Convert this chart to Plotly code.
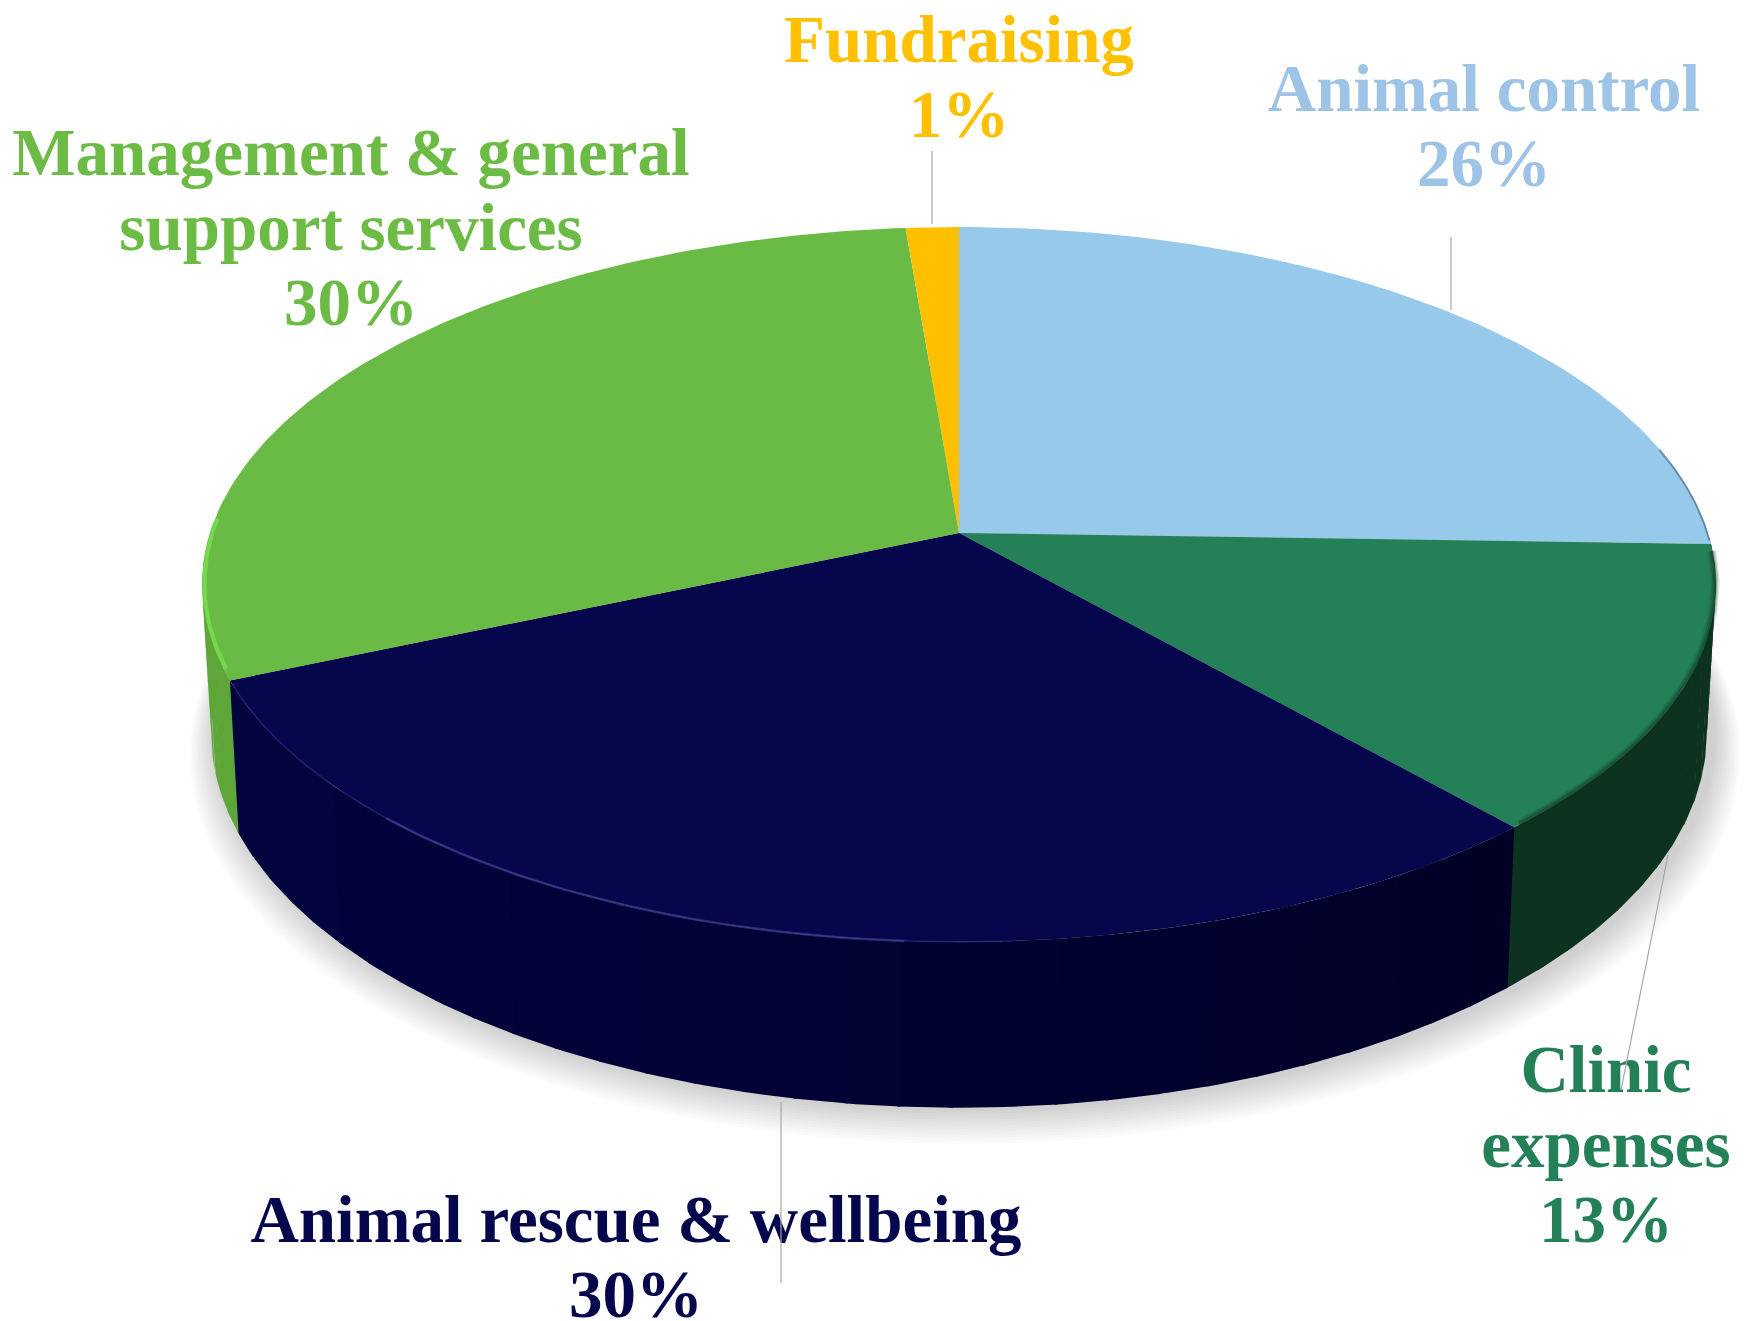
"""Budget split as a tilted 3D-look pie, drawn as filled polygons on pixel-scaled axes."""
import numpy as np
import plotly.graph_objects as go

# data, clockwise from 12 o'clock
categories = ["Animal control", "Clinic<br>expenses", "Animal rescue & wellbeing",
              "Management & general<br>support services", "Fundraising"]
shares = [25.5, 13.0, 30.0, 30.2, 1.3]

top_colors = ["#97c9eb", "#248057", "#06064d", "#6abb45", "#ffc000"]
wall_colors = ["#5f87a8", "#0d3320", "#03033f", "#5ea53a", "#b88a00"]
wall_colors_right = ["#5f87a8", "#0d3320", "#000020", "#5ea53a", "#b88a00"]
label_colors = ["#9dc3e6", "#248057", "#06064d", "#6cbb45", "#ffc000"]
label_x = [1484, 1606, 636, 351, 959]
label_y = [132, 1150, 1263, 233, 83]

WIDTH, HEIGHT = 1759, 1321
LINE_PITCH = 75
CX = 959
TOP = dict(cy=533, a=350, b=749)
BOTTOM = dict(cy=679, a=367, b=740)
K = 0.144


def project(theta, disc, scale=1.0):
    u, v = np.sin(theta) * scale, np.cos(theta) * scale
    w = 1 + K * v
    return CX + disc["b"] * u / w, disc["cy"] - disc["a"] * v / w


def poly(x, y, color):
    return go.Scatter(x=x, y=y, mode="lines", fill="toself", fillcolor=color,
                      line=dict(width=0), hoverinfo="skip", showlegend=False)


def stroke(x, y, color, width):
    return go.Scatter(x=x, y=y, mode="lines", hoverinfo="skip", showlegend=False,
                      line=dict(color=color, width=width))


def mix(c1, c2, t):
    a = [int(c1[i:i + 2], 16) for i in (1, 3, 5)]
    b = [int(c2[i:i + 2], 16) for i in (1, 3, 5)]
    return "rgb(%d,%d,%d)" % tuple(round(p + (q - p) * t) for p, q in zip(a, b))


fig = go.Figure()

# soft shadow under the disc
ring = np.linspace(0, 2 * np.pi, 240)
for i in range(12):
    sx, sy = project(ring, BOTTOM, 1 + 0.003 * (12 - i))
    fig.add_trace(poly(sx + 6, sy + 1.5 * (12 - i), "rgba(90,90,90,0.024)"))

edges = np.cumsum([0] + shares) / sum(shares) * 2 * np.pi

# side walls, only the part facing the viewer, in strips for the shading
for i in range(len(shares)):
    start, end = max(edges[i], np.pi / 2 - 0.03), min(edges[i + 1], 3 * np.pi / 2 + 0.03)
    if end <= start:
        continue
    steps = np.linspace(start, end, int((end - start) * 16) + 2)
    for s0, s1 in zip(steps[:-1], steps[1:]):
        arc = np.linspace(s0, s1 + 0.004, 6)
        tx, ty = project(arc, TOP)
        bx, by = project(arc, BOTTOM)
        mid = (CX + 749 - project(np.array([s0]), TOP)[0][0]) / (2 * 749)
        color = mix(wall_colors_right[i], wall_colors[i], min(max(mid, 0), 1) ** 0.8)
        fig.add_trace(poly(np.r_[tx, bx[::-1]], np.r_[ty, by[::-1]], color))

# top faces
for i in range(len(shares)):
    arc = np.linspace(edges[i], edges[i + 1], max(int((edges[i + 1] - edges[i]) * 60), 8))
    ax, ay = project(arc, TOP)
    fig.add_trace(poly(np.r_[CX, ax, CX], np.r_[TOP["cy"], ay, TOP["cy"]], top_colors[i]))

# bevel: dark blur on the clinic rim, light rims on rescue and management
arc = np.linspace(edges[1] + 0.02, edges[2] - 0.01, 60)
for width, alpha in [(9, 0.14), (6, 0.22), (3, 0.32)]:
    ax, ay = project(arc, TOP, 0.999)
    fig.add_trace(stroke(ax, ay, f"rgba(13,51,32,{alpha})", width))
arc = np.linspace(edges[1] - 0.28, edges[1] - 0.01, 30)
ax, ay = project(arc, TOP, 0.999)
fig.add_trace(stroke(ax, ay, "rgba(60,85,115,0.55)", 2))

arc = np.linspace(np.pi * 0.98, edges[3] - 0.03, 80)
ax, ay = project(arc, TOP)
fig.add_trace(stroke(ax, ay, "rgba(40,40,125,0.45)", 2))
arc = np.linspace(np.pi * 1.02, np.pi * 1.24, 50)
ax, ay = project(arc, TOP)
fig.add_trace(stroke(ax, ay, "rgba(70,70,150,0.55)", 2.5))

arc = np.linspace(edges[3] + 0.03, edges[3] + 0.45, 40)
ax, ay = project(arc, TOP, 0.997)
fig.add_trace(stroke(ax, ay, "#74d94e", 4))

# labels line by line, then leader lines on top of them
for i, name in enumerate(categories):
    lines = name.split("<br>") + [f"{shares[i]:.0f}%"]
    for j, line in enumerate(lines):
        fig.add_trace(go.Scatter(
            x=[label_x[i]], y=[label_y[i] + (j - (len(lines) - 1) / 2) * LINE_PITCH],
            mode="text", text=[line], textposition="middle center",
            hoverinfo="skip", showlegend=False,
            textfont=dict(family="Liberation Serif", size=67, color=label_colors[i], weight="bold")))

leaders = [([1451, 1451], [237, 310]), ([932, 932], [151, 224]),
           ([1668, 1621], [855, 1090]), ([781, 781], [1102, 1283])]
for lx, ly in leaders:
    fig.add_trace(stroke(lx, ly, "#a6a6a6", 1.2))

fig.update_layout(
    width=WIDTH, height=HEIGHT, margin=dict(l=0, r=0, t=0, b=0),
    paper_bgcolor="white", plot_bgcolor="white", showlegend=False,
    xaxis=dict(range=[0, WIDTH], visible=False, fixedrange=True),
    yaxis=dict(range=[HEIGHT, 0], visible=False, fixedrange=True),
)
fig.write_html("out.html", post_script="document.body.style.margin='0';",
               config={"displayModeBar": False})
